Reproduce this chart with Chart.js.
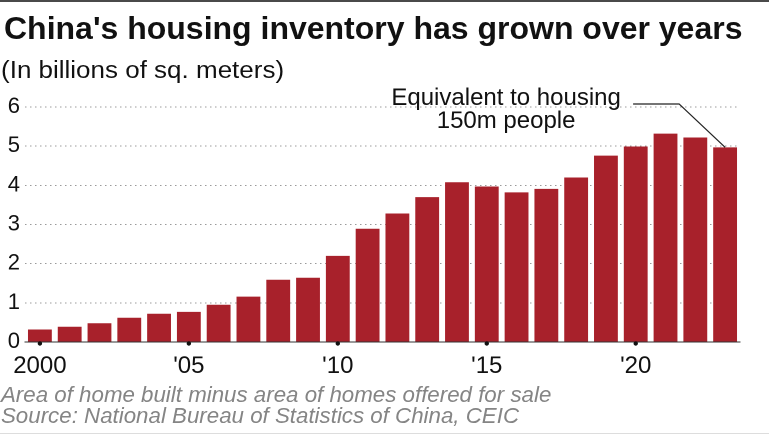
<!DOCTYPE html>
<html>
<head>
<meta charset="utf-8">
<script src="https://cdn.jsdelivr.net/npm/chart.js@4"></script>
<style>
  html, body { margin: 0; padding: 0; background: #fff; }
  #page {
    position: relative; width: 769px; height: 434px; overflow: hidden;
    font-family: "Liberation Sans", Arial, sans-serif; color: #111;
    box-sizing: border-box; border-top: 2px solid #4a4a4a; border-bottom: 1px solid #ddd;
  }
  #myChart { position: absolute; left: 0; top: -2px; }
  .txt { position: absolute; white-space: nowrap; line-height: 1; transform-origin: 0 0; }
  #title { left: 4px; top: 10px; font-size: 32px; font-weight: bold; }
  #subtitle { left: 1px; top: 57px; font-size: 23px; transform: scaleX(1.13); }
  .note { left: 1px; font-size: 22.3px; font-style: italic; color: #858585; }
</style>
</head>
<body>
<div id="page">
  <canvas id="myChart" width="769" height="434"></canvas>
  <div class="txt" id="title">China's housing inventory has grown over years</div>
  <div class="txt" id="subtitle">(In billions of sq. meters)</div>
  <div class="txt note" style="top:382px">Area of home built minus area of homes offered for sale</div>
  <div class="txt note" style="top:403px">Source: National Bureau of Statistics of China, CEIC</div>
</div>
<script>
const years = ['2000','2001','2002','2003','2004','2005','2006','2007','2008','2009','2010','2011',
               '2012','2013','2014','2015','2016','2017','2018','2019','2020','2021','2022','2023'];
// billions of sq. meters
const inventory = [0.32,0.39,0.48,0.62,0.72,0.77,0.95,1.16,1.59,1.64,2.20,2.89,
                   3.28,3.70,4.08,3.97,3.82,3.91,4.20,4.76,4.99,5.32,5.22,4.97];
const tickText = {'2000':'2000','2005':"'05",'2010':"'10",'2015':"'15",'2020':"'20"};
const yTicks = [0,1,2,3,4,5,6];
const noteLines = ['Equivalent to housing','150m people'];

const barColor = '#a8212b';

// tick dots under the labelled years, leader line + label pointing at the last bar
const notePlugin = {
  id: 'note',
  afterDatasetsDraw(chart) {
    const ctx = chart.ctx;
    const xs = chart.scales.x;
    const bottom = chart.chartArea.bottom;
    ctx.save();
    ctx.fillStyle = '#111';
    years.forEach((yr, i) => {
      if (!tickText[yr]) return;
      ctx.beginPath();
      ctx.arc(xs.getPixelForValue(i), bottom + 1.5, 2.2, 0, Math.PI * 2);
      ctx.fill();
    });

    const bars = chart.getDatasetMeta(0).data;
    const last = bars[bars.length - 1];
    const y6 = chart.scales.y.getPixelForValue(6);
    ctx.strokeStyle = '#222';
    ctx.lineWidth = 1.2;
    ctx.beginPath();
    ctx.moveTo(last.x - 92, y6 - 3);
    ctx.lineTo(last.x - 46, y6 - 3);
    ctx.lineTo(last.x, last.y);
    ctx.stroke();
    ctx.fillStyle = '#111';
    ctx.font = '24px "Liberation Sans", Arial, sans-serif';
    ctx.textAlign = 'center';
    ctx.textBaseline = 'alphabetic';
    ctx.fillText(noteLines[0], last.x - 219, y6 - 2);
    ctx.fillText(noteLines[1], last.x - 219, y6 + 21);
    ctx.restore();
  }
};

let config = {
  type: 'bar',
  data: {
    labels: years,
    datasets: [{
      data: inventory,
      backgroundColor: barColor,
      borderWidth: 0,
      barPercentage: 0.8,
      categoryPercentage: 1.0
    }]
  },
  options: {
    responsive: false,
    animation: false,
    devicePixelRatio: 2,
    layout: { padding: { top: 107, right: 29, left: 0, bottom: 0 } },
    plugins: { legend: { display: false }, tooltip: { enabled: false } },
    scales: {
      x: {
        offset: true,
        afterFit(scale) { scale.height = 92; },
        grid: { display: false, drawTicks: true, tickLength: 4, offset: false },
        border: { display: true, color: '#333', width: 1 },
        ticks: {
          autoSkip: false,
          maxRotation: 0,
          padding: 6,
          color: '#111',
          font: { family: '"Liberation Sans", Arial, sans-serif', size: 24 },
          callback: (v, i) => tickText[years[i]] || ''
        }
      },
      y: {
        min: 0,
        max: 6,
        afterFit(scale) { scale.width = 25; },
        afterBuildTicks(scale) { scale.ticks = yTicks.map(v => ({ value: v })); },
        grid: { color: '#9a9a9a', lineWidth: 1, drawTicks: false },
        border: { display: false, dash: [1.5, 3.5] },
        ticks: {
          padding: 5,
          color: '#111',
          font: { family: '"Liberation Sans", Arial, sans-serif', size: 22 }
        }
      }
    }
  },
  plugins: [notePlugin]
};

window.onload = () => {
  new Chart(document.getElementById('myChart'), config);
};
</script>
</body>
</html>
